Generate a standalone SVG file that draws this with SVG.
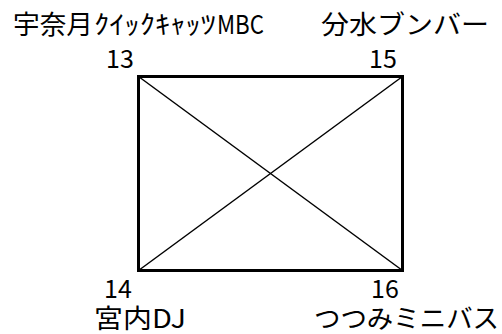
<svg xmlns="http://www.w3.org/2000/svg" width="502" height="334" viewBox="0 0 502 334">
<style>
text{font-family:"Noto Sans CJK JP","Noto Sans",sans-serif;font-size:26px;fill:#000}
.num{font-size:25px}
.edge{stroke:#000;stroke-width:3;stroke-linecap:square;fill:none}
.diag{stroke:#000;stroke-width:1.5;fill:none}
</style>
<rect width="502" height="334" fill="#fff"/>
<g id="connectors">
<line class="edge" x1="138.5" y1="76.5" x2="402.5" y2="76.5"/>
<line class="edge" x1="138.5" y1="270.5" x2="402.5" y2="270.5"/>
<line class="edge" x1="138.5" y1="76.5" x2="138.5" y2="270.5"/>
<line class="edge" x1="402.5" y1="76.5" x2="402.5" y2="270.5"/>
<line class="diag" x1="138.5" y1="76.5" x2="402.5" y2="270.5"/>
<line class="diag" x1="402.5" y1="76.5" x2="138.5" y2="270.5"/>
</g>
<g id="node13">
<text class="num" x="106" y="68">13</text>
<text y="34"><tspan x="13" textLength="80" lengthAdjust="spacingAndGlyphs">宇奈月</tspan><tspan x="94" textLength="122" lengthAdjust="spacingAndGlyphs">ｸｲｯｸｷｬｯﾂ</tspan><tspan x="217" textLength="47" lengthAdjust="spacingAndGlyphs">MBC</tspan></text>
</g>
<g id="node15">
<text class="num" x="369" y="68">15</text>
<text x="321" y="34" textLength="168" lengthAdjust="spacingAndGlyphs">分水ブンバー</text>
</g>
<g id="node14">
<text class="num" x="104" y="298">14</text>
<text x="94" y="328" textLength="92" lengthAdjust="spacingAndGlyphs">宮内DJ</text>
</g>
<g id="node16">
<text class="num" x="371" y="298">16</text>
<text x="314" y="328" textLength="185" lengthAdjust="spacingAndGlyphs">つつみミニバス</text>
</g>
</svg>
